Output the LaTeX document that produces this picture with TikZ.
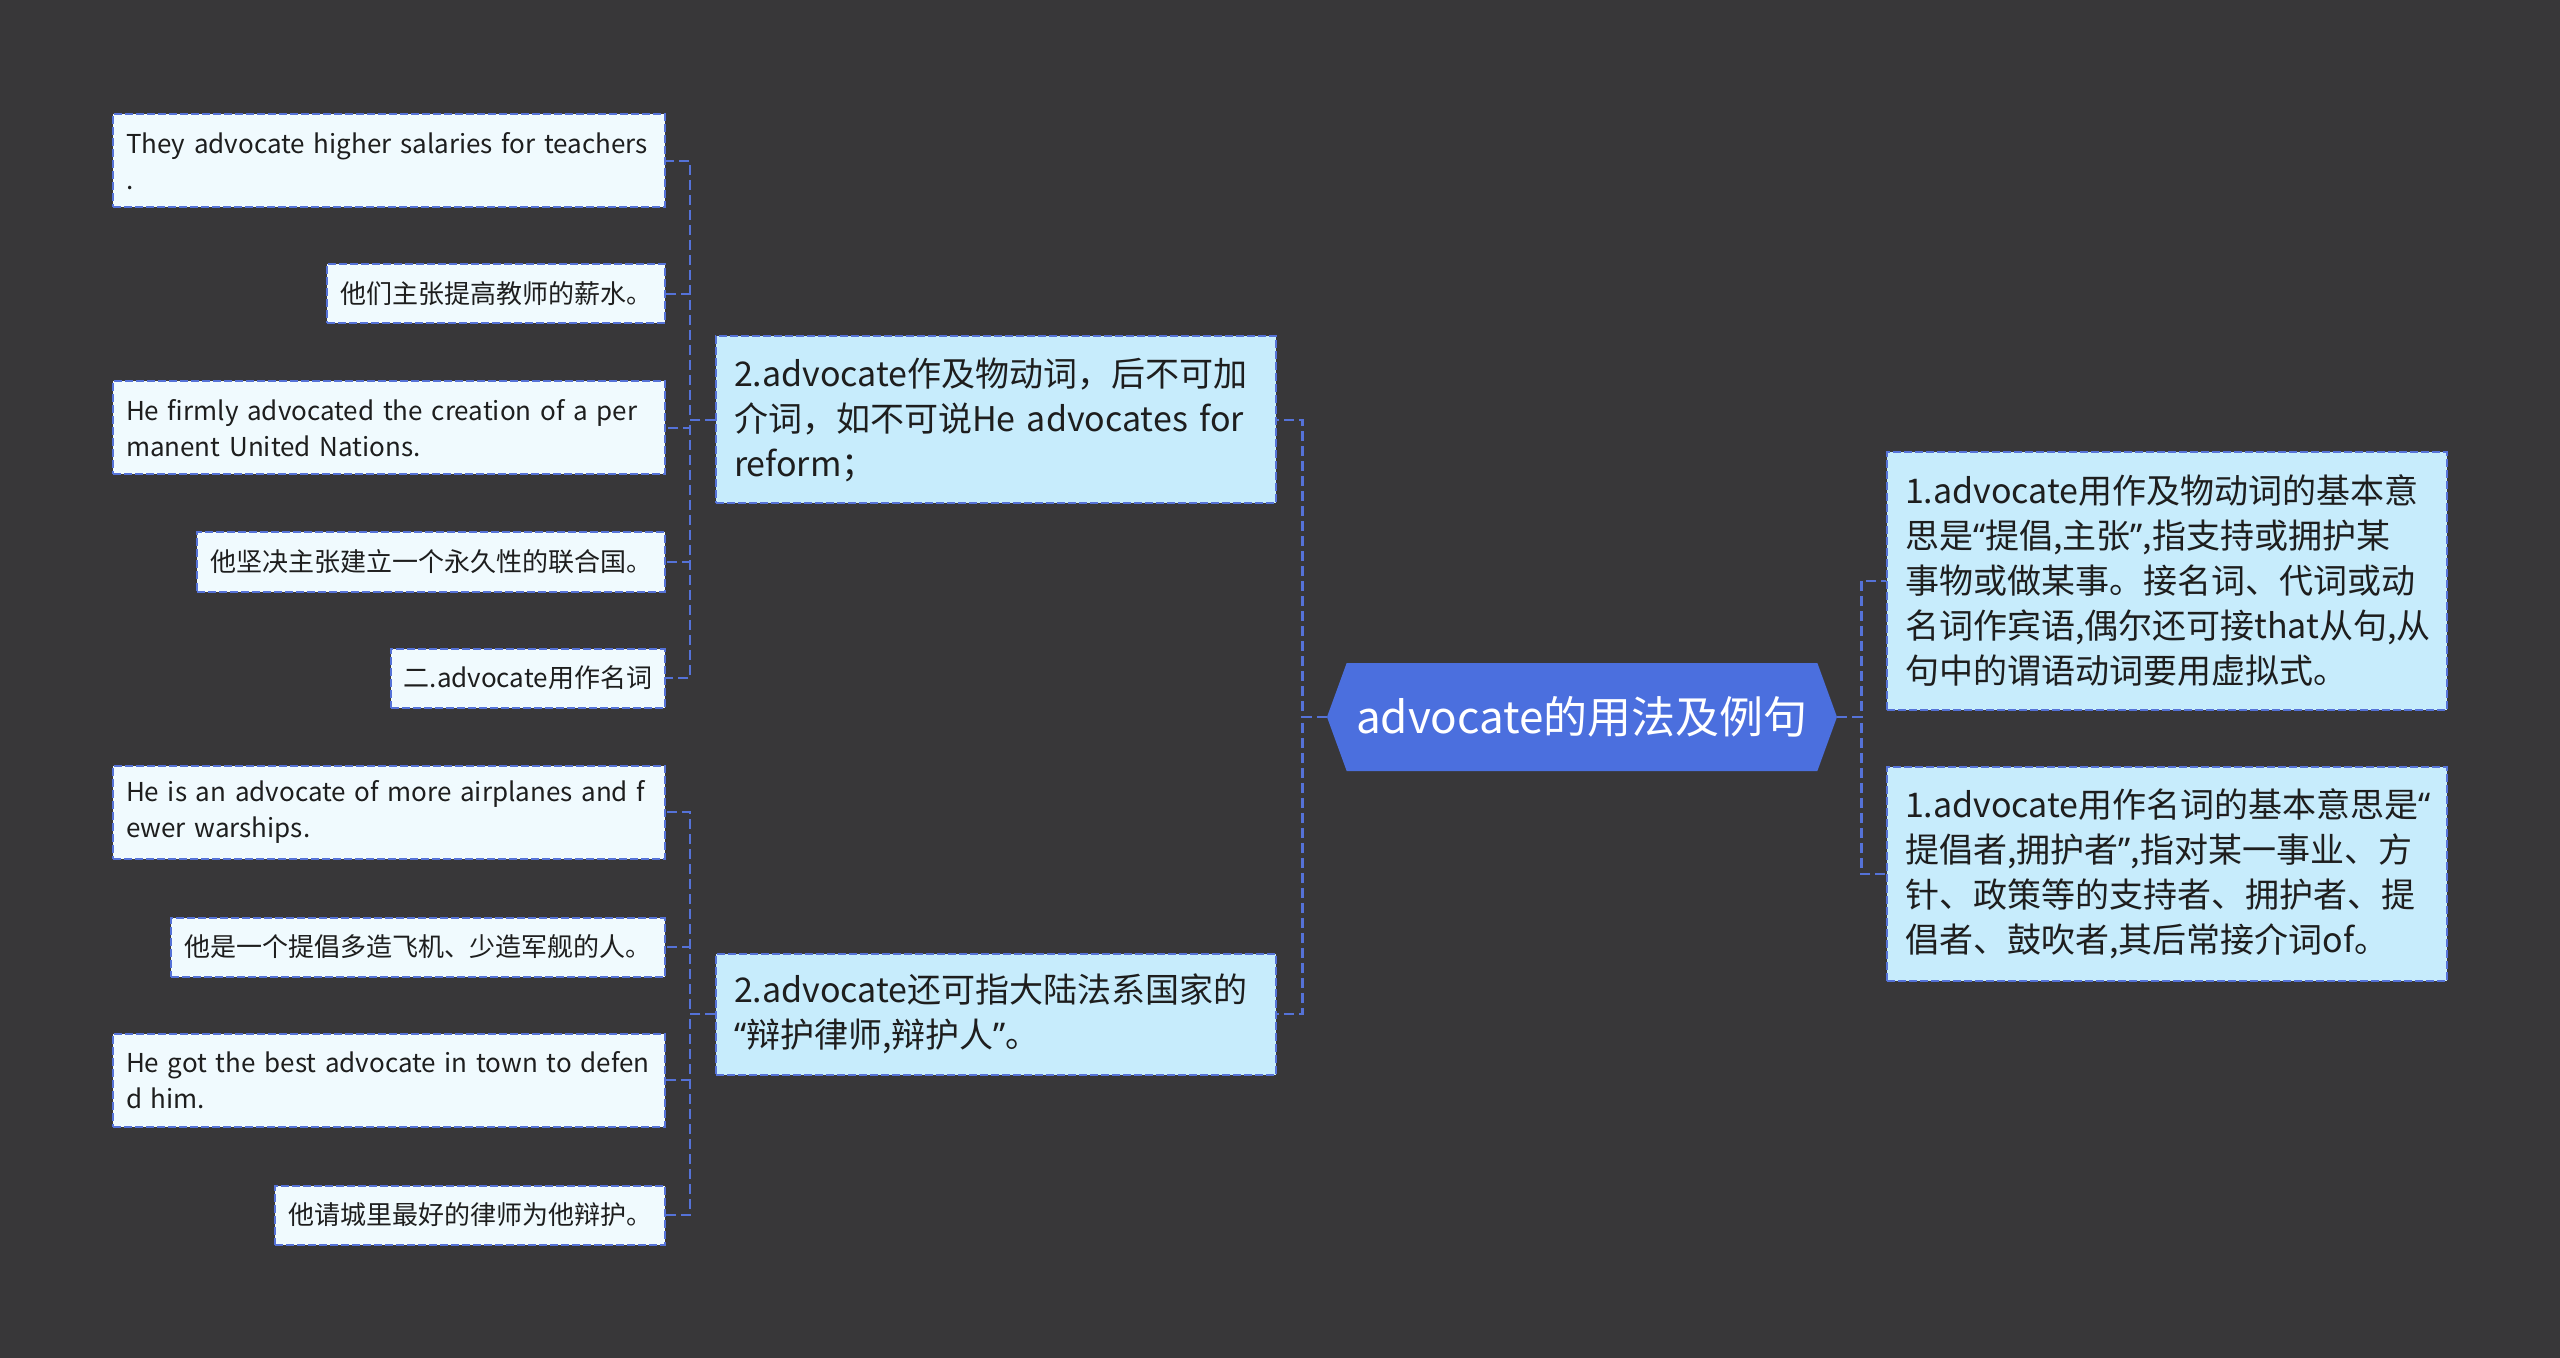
\documentclass[tikz,border=0pt]{standalone}
\usepackage{fontspec}
\setmainfont{Noto Sans CJK SC}
\newfontfamily\quotefont{Noto Sans}
\newcommand\qo{{\quotefont “}}
\newcommand\qc{{\quotefont ”}}
\usetikzlibrary{shapes.symbols}
\definecolor{bgdark}{HTML}{383739}
\definecolor{linkblue}{HTML}{5572D8}
\definecolor{hubblue}{HTML}{4B6FDE}
\definecolor{subfill}{HTML}{C7ECFC}
\definecolor{leaffill}{HTML}{F0FAFE}
\definecolor{textdark}{HTML}{1E1E1E}
\begin{document}
\begin{tikzpicture}[x=0.5pt, y=-0.5pt,
	link/.style={linkblue, line width=1.2pt, dash pattern=on 5pt off 2.5pt},
	box/.style={draw=linkblue, line width=1pt, dash pattern=on 4pt off 1.5pt, text=textdark, align=left, inner ysep=0pt},
	leaf/.style={box, fill=leaffill, font=\fontsize{13}{18}\selectfont, inner xsep=6.5pt, minimum height=29.5pt, anchor=east},
	leafwide/.style={leaf, text width=263pt, minimum height=46.5pt},
	sub/.style={box, fill=subfill, font=\fontsize{17}{22.5}\selectfont, inner xsep=9pt, text width=262pt},
	hub/.style={signal, signal to=west and east, signal pointer angle=140, fill=hubblue, text=white, font=\fontsize{22}{26}\selectfont, minimum width=255pt, minimum height=54pt, inner sep=0pt}]
	\fill[bgdark] (0,0) rectangle (2560,1358);
	\useasboundingbox (0,0) rectangle (2560,1358);
	% centre
	\node[hub] (root) at (1582,717) {advocate的用法及例句};
	% right side
	\node[sub, anchor=west, minimum height=129pt] (r1) at (1886,581) {1.advocate用作及物动词的基本意\\思是\qo 提倡,主张\qc,指支持或拥护某\\事物或做某事。接名词、代词或动\\名词作宾语,偶尔还可接that从句,从\\句中的谓语动词要用虚拟式。};
	\node[sub, anchor=west, minimum height=107pt] (r2) at (1886,874) {1.advocate用作名词的基本意思是\qo\\提倡者,拥护者\qc,指对某一事业、方\\针、政策等的支持者、拥护者、提\\倡者、鼓吹者,其后常接介词of。};
	% left side
	\node[sub, anchor=east, minimum height=83.5pt] (m1) at (1277,420) {2.advocate作及物动词，后不可加\\介词，如不可说He advocates for\\reform；};
	\node[sub, anchor=east, minimum height=60.5pt] (m2) at (1277,1014) {2.advocate还可指大陆法系国家的\\\qo 辩护律师,辩护人\qc。};
	\node[leafwide] (l1) at (666,161) {They advocate higher salaries for teachers\\.};
	\node[leaf] (l2) at (666,294) {他们主张提高教师的薪水。};
	\node[leafwide] (l3) at (666,428) {He firmly advocated the creation of a per\\manent United Nations.};
	\node[leaf] (l4) at (666,562) {他坚决主张建立一个永久性的联合国。};
	\node[leaf] (l5) at (666,678) {二.advocate用作名词};
	\node[leafwide] (l6) at (666,812) {He is an advocate of more airplanes and f\\ewer warships.};
	\node[leaf] (l7) at (666,947) {他是一个提倡多造飞机、少造军舰的人。};
	\node[leafwide] (l8) at (666,1080) {He got the best advocate in town to defen\\d him.};
	\node[leaf] (l9) at (666,1215) {他请城里最好的律师为他辩护。};
	% connectors
	\foreach \c in {r1,r2}
		\draw[link] (root.east) -- ++(24,0) |- (\c.west);
	\foreach \c in {m1,m2}
		\draw[link] (root.west) -- ++(-24,0) |- (\c.east);
	\foreach \c in {l1,l2,l3,l4,l5}
		\draw[link] (m1.west) -- ++(-25,0) |- (\c.east);
	\foreach \c in {l6,l7,l8,l9}
		\draw[link] (m2.west) -- ++(-25,0) |- (\c.east);
\end{tikzpicture}
\end{document}
